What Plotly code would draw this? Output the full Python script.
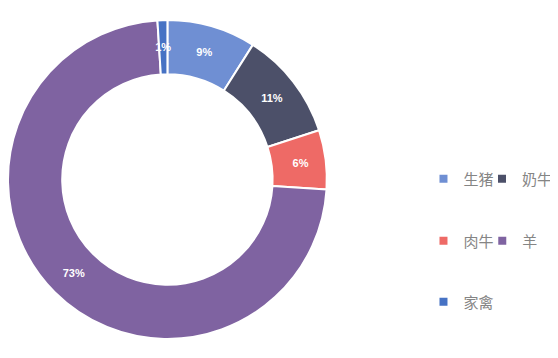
import plotly.graph_objects as go

categories = ["生猪", "奶牛", "肉牛", "羊", "家禽"]
values = [9, 11, 6, 73, 1]
colors = ["#6f8fd3", "#4c5069", "#ee6a66", "#7f63a1", "#4672c4"]
legend_ids = ["legend", "legend2", "legend3", "legend4", "legend5"]
big_label = [True, True, True, True, False]   # the 1% slice label is set on the mid ring

W, H = 550, 350   # page body keeps an 8 px margin
OFF = 8
legend_px = [(445, 179), (504, 179), (445, 241), (504, 241), (445, 302)]

# pie geometry (viewport px)
CX, CY, R, HOLE = 168, 179.5, 160, 0.66
R_MID = R * (1 + HOLE) / 2
R2 = R_MID / 0.97

def dom(cx, cy, r):
    return dict(x=[(cx - OFF - r) / W, (cx - OFF + r) / W],
                y=[(H - (cy - OFF + r)) / H, (H - (cy - OFF - r)) / H])

fig = go.Figure()
fig.add_trace(go.Pie(
    labels=categories, values=values, sort=False, direction="clockwise", rotation=0,
    hole=HOLE, marker=dict(colors=colors, line=dict(color="white", width=2)),
    texttemplate=["%{percent:.0%}" if b else "" for b in big_label],
    textposition="inside", insidetextorientation="horizontal",
    textfont=dict(family="Liberation Sans, Arial", size=11, color="white", weight="bold"),
    showlegend=False, hoverinfo="label+percent",
    domain=dom(CX, CY, R),
))
fig.add_trace(go.Pie(
    labels=categories, values=values, sort=False, direction="clockwise", rotation=0,
    hole=0.9, marker=dict(colors=["rgba(0,0,0,0)"] * len(values), line=dict(width=0)),
    texttemplate=["" if b else "%{percent:.0%}" for b in big_label],
    textposition="inside", insidetextorientation="horizontal",
    textfont=dict(family="Liberation Sans, Arial", size=11, color="white", weight="bold"),
    showlegend=False, hoverinfo="skip",
    domain=dom(CX, CY, R2),
))
for name, color, lg in zip(categories, colors, legend_ids):
    fig.add_trace(go.Scatter(
        x=[None], y=[None], mode="markers", name=name, legend=lg,
        marker=dict(symbol="square", size=8, color=color),
    ))

legend_common = dict(orientation="v", xanchor="left", yanchor="middle", itemwidth=30,
                     font=dict(family="Noto Sans CJK SC", size=15, color="#858585"),
                     bgcolor="rgba(0,0,0,0)")
layout_legends = {}
for lg, (px, py) in zip(legend_ids, legend_px):
    layout_legends[lg] = dict(x=(px - OFF - 20) / W, y=1 - (py - OFF) / H, **legend_common)

fig.update_layout(
    width=W, height=H, margin=dict(l=0, r=0, t=0, b=0),
    paper_bgcolor="white", plot_bgcolor="white",
    xaxis=dict(visible=False), yaxis=dict(visible=False),
    uniformtext=dict(minsize=11, mode="show"),
    **layout_legends,
)
fig.write_html("out.html")
